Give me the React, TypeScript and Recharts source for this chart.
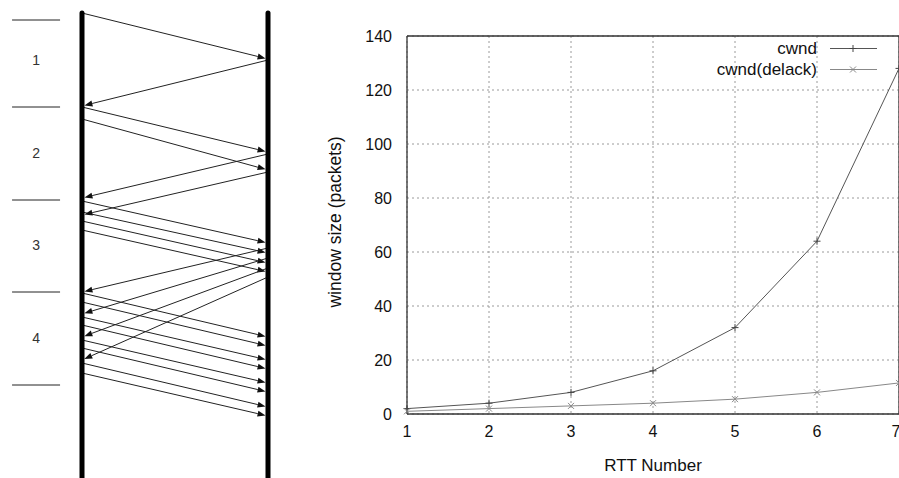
import React from 'react';
import {
  ComposedChart, LineChart, Line, Scatter, XAxis, YAxis, CartesianGrid,
  ReferenceLine, Legend,
} from 'recharts';

// ---------- Left: slow-start timeline (time grows downwards) ----------
const SENDER = 0;
const RECEIVER = 1;
const timelineStart = 13;
const timelineEnd = 478;
// data packets: time leaving sender -> time reaching receiver
const packetSend = [13, 107, 119, 201, 212, 221, 230, 293, 302, 317, 325, 340, 348, 363, 373];
const packetRecv = [59, 152, 170, 243, 253, 263, 272, 337, 346, 360, 369, 383, 392, 407, 416];
// ACKs: time leaving receiver -> time reaching sender
const ackSend = [60, 154, 172, 248, 258, 268, 277];
const ackRecv = [106, 198, 215, 292, 314, 337, 360];
// round boundaries and labels
const roundBounds = [20, 107, 200, 292, 385];
const roundLabels = ['1', '2', '3', '4'];
const roundLabelTimes = [60, 153, 245, 338];
const sepFrom = -0.376;
const sepTo = -0.118;
const labelPos = -0.247;

// ---------- Right: window size chart ----------
const rttNumbers = [1, 2, 3, 4, 5, 6, 7];
const cwnd = [2, 4, 8, 16, 32, 64, 128];
const cwndDelack = [1, 2, 3, 4, 5.5, 8, 11.5];
const yTicks = [0, 20, 40, 60, 80, 100, 120, 140];
const xTicks = [1, 2, 3, 4, 5, 6, 7];
const seriesNames = ['cwnd', 'cwnd(delack)'];

const FONT = "'Liberation Sans', Arial, Helvetica, sans-serif";

const labelData = roundLabels.map((l, i) => ({ x: labelPos, y: roundLabelTimes[i], label: l }));
const rttData = rttNumbers.map((r, i) => ({ rtt: r, cwnd: cwnd[i], delack: cwndDelack[i] }));

const Arrow = (props: any) => {
  const { x1, y1, x2, y2 } = props;
  const dx = x2 - x1;
  const dy = y2 - y1;
  const len = Math.hypot(dx, dy) || 1;
  const ux = dx / len;
  const uy = dy / len;
  const tipX = x2 - ux * 2.5;
  const tipY = y2 - uy * 2.5;
  const hl = 8;
  const hw = 3;
  const bx = tipX - ux * hl;
  const by = tipY - uy * hl;
  const px = -uy;
  const py = ux;
  return (
    <g>
      <line x1={x1} y1={y1} x2={bx} y2={by} stroke="#222" strokeWidth={1} />
      <polygon
        points={`${tipX},${tipY} ${bx + px * hw},${by + py * hw} ${bx - px * hw},${by - py * hw}`}
        fill="#111"
      />
    </g>
  );
};

const RoundLabel = (props: any) => (
  <text x={props.cx} y={props.cy} textAnchor="middle" dominantBaseline="central"
    fontFamily={FONT} fontSize={14} fill="#333">
    {props.payload.label}
  </text>
);

const Timeline = () => (
  <ComposedChart width={300} height={478} data={labelData}
    margin={{ top: 0, right: 0, bottom: 0, left: 0 }}>
    <XAxis type="number" dataKey="x" domain={[-82 / 186, 218 / 186]} hide allowDataOverflow />
    <YAxis type="number" dataKey="y" domain={[0, 478]} reversed hide allowDataOverflow />
    {roundBounds.map((t, i) => (
      <ReferenceLine key={'b' + i} segment={[{ x: sepFrom, y: t }, { x: sepTo, y: t }]}
        stroke="#222" strokeWidth={1} />
    ))}
    {packetSend.map((t, i) => (
      <ReferenceLine key={'p' + i}
        segment={[{ x: SENDER, y: t }, { x: RECEIVER, y: packetRecv[i] }]}
        shape={Arrow} />
    ))}
    {ackSend.map((t, i) => (
      <ReferenceLine key={'a' + i}
        segment={[{ x: RECEIVER, y: t }, { x: SENDER, y: ackRecv[i] }]}
        shape={Arrow} />
    ))}
    <ReferenceLine segment={[{ x: SENDER, y: timelineStart }, { x: SENDER, y: timelineEnd }]}
      stroke="#000" strokeWidth={5} strokeLinecap="round" />
    <ReferenceLine segment={[{ x: RECEIVER, y: timelineStart }, { x: RECEIVER, y: timelineEnd }]}
      stroke="#000" strokeWidth={5} strokeLinecap="round" />
    <Scatter dataKey="y" shape={RoundLabel} isAnimationActive={false} />
  </ComposedChart>
);

const PlusDot = (props: any) => {
  const { cx, cy } = props;
  if (cx == null || cy == null) return null;
  const s = 3.5;
  return (
    <g stroke="#444" strokeWidth={1}>
      <line x1={cx - s} y1={cy} x2={cx + s} y2={cy} />
      <line x1={cx} y1={cy - s} x2={cx} y2={cy + s} />
    </g>
  );
};

const CrossDot = (props: any) => {
  const { cx, cy } = props;
  if (cx == null || cy == null) return null;
  const s = 3;
  return (
    <g stroke="#888" strokeWidth={1}>
      <line x1={cx - s} y1={cy - s} x2={cx + s} y2={cy + s} />
      <line x1={cx - s} y1={cy + s} x2={cx + s} y2={cy - s} />
    </g>
  );
};

const LegendBox = () => (
  <div style={{ fontFamily: FONT, fontSize: 17, color: '#111' }}>
    {seriesNames.map((name, i) => (
      <div key={name} style={{ display: 'flex', alignItems: 'center', height: 21 }}>
        <span style={{ width: 200, textAlign: 'right', lineHeight: '21px' }}>{name}</span>
        <svg width={60} height={21} style={{ display: 'block' }}>
          <line x1={13} y1={10.5} x2={60} y2={10.5} stroke={i === 0 ? '#555' : '#888'} strokeWidth={1} />
          {i === 0 ? <PlusDot cx={36} cy={10.5} /> : <CrossDot cx={36} cy={10.5} />}
        </svg>
      </div>
    ))}
  </div>
);

const YLabel = (props: any) => {
  const vb = props.viewBox || { x: 0, y: 36, width: 107, height: 378 };
  const cx = vb.x + 35;
  const cy = vb.y + vb.height / 2 - 3;
  return (
    <text x={cx} y={cy} transform={`rotate(-90 ${cx} ${cy})`} textAnchor="middle"
      dominantBaseline="central" fontFamily={FONT} fontSize={17.5} fill="#111">
      window size (packets)
    </text>
  );
};

const WindowChart = () => (
  <LineChart width={600} height={478} data={rttData}
    margin={{ top: 36, right: 1, bottom: 0, left: 0 }}>
    <CartesianGrid stroke="#9a9a9a" strokeDasharray="2 3" />
    <XAxis type="number" dataKey="rtt" domain={[1, 7]} ticks={xTicks} height={64}
      tickLine={false} tickSize={0} tickMargin={12}
      axisLine={{ stroke: '#333', strokeWidth: 1.3 }}
      tick={{ fontFamily: FONT, fontSize: 16, fill: '#111' }}
      label={{ value: 'RTT Number', position: 'insideBottom', offset: 7, fontFamily: FONT, fontSize: 17, fill: '#111' }} />
    <YAxis type="number" domain={[0, 140]} ticks={yTicks} width={107}
      tickLine={false} tickSize={0} tickMargin={15}
      axisLine={{ stroke: '#333', strokeWidth: 1.3 }}
      tick={{ fontFamily: FONT, fontSize: 16, fill: '#111' }}
      label={<YLabel />} />
    <ReferenceLine y={140} stroke="#333" strokeWidth={1.3} />
    <ReferenceLine x={7} stroke="#333" strokeWidth={1.3} />
    <Legend layout="horizontal" verticalAlign="middle" content={() => <LegendBox />}
      wrapperStyle={{ position: 'absolute', left: 317, top: 2 + 36, width: 270, height: 42 }} />
    <Line type="linear" dataKey="cwnd" name={seriesNames[0]} stroke="#555" strokeWidth={1}
      dot={<PlusDot />} isAnimationActive={false} />
    <Line type="linear" dataKey="delack" name={seriesNames[1]} stroke="#888" strokeWidth={1}
      dot={<CrossDot />} isAnimationActive={false} />
  </LineChart>
);

export default function App() {
  return (
    <div style={{ position: 'absolute', left: 0, top: 0, width: 899, height: 478, background: '#fff', overflow: 'hidden' }}>
      <div style={{ position: 'absolute', left: 0, top: 0 }}>
        <Timeline />
      </div>
      <div style={{ position: 'absolute', left: 300, top: 0 }}>
        <WindowChart />
      </div>
    </div>
  );
}
